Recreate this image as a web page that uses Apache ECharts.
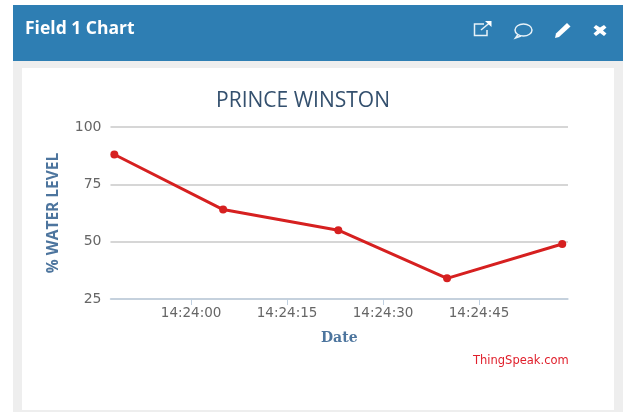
<!DOCTYPE html>
<html>
<head>
<meta charset="utf-8">
<style>
html, body { margin: 0; padding: 0; background: #fff; }
#chart { width: 623px; height: 412px; }
</style>
<script src="https://cdn.jsdelivr.net/npm/echarts@6/dist/echarts.min.js"></script>
</head>
<body>
<div id="chart"></div>
<script>
var times = ['2021-01-01 14:23:48', '2021-01-01 14:24:05', '2021-01-01 14:24:23', '2021-01-01 14:24:40', '2021-01-01 14:24:58']
var waterLevel = [88, 64, 55, 34, 49]
var xTicks = ['2021-01-01 14:24:00', '2021-01-01 14:24:15', '2021-01-01 14:24:30', '2021-01-01 14:24:45']
var yTicks = [25, 50, 75, 100]

var chart = echarts.init(document.getElementById('chart'))

var toMs = function (t) {
    return new Date(t).getTime()
}

// header icons, no icon font in here so they are plain shapes
var line = function (points) {
    return {type: 'polyline', z: 12, shape: {points: points}, style: {fill: 'none', stroke: '#e8f2f8', lineWidth: 1.5}}
}
var solid = function (points) {
    return {type: 'polygon', z: 12, shape: {points: points}, style: {fill: '#fff'}}
}

chart.setOption({
    animation: false,
    title: {
        text: 'PRINCE WINSTON',
        left: 298,
        top: 86,
        textAlign: 'center',
        textStyle: {fontFamily: 'Open Sans', fontSize: 21, fontWeight: 'normal', color: '#34506e'}
    },
    grid: {left: 110.5, right: 55, top: 127, bottom: 113},
    // value axis on ms, the time axis will not give 15s ticks
    xAxis: {
        type: 'value',
        min: toMs('2021-01-01 14:23:47') + 400,
        max: toMs('2021-01-01 14:24:58') + 900,
        name: 'Date',
        nameLocation: 'middle',
        nameGap: 32,
        nameTextStyle: {fontFamily: 'DejaVu Serif', fontSize: 14, fontWeight: 'bold', color: '#4d759e'},
        axisLine: {lineStyle: {color: '#c0d0e0', width: 1.5}},
        axisTick: {show: true, length: 6, customValues: xTicks.map(toMs), lineStyle: {color: '#c0d0e0'}},
        axisLabel: {
            customValues: xTicks.map(toMs),
            formatter: function (value) {
                return echarts.time.format(value, '{HH}:{mm}:{ss}')
            },
            margin: 7,
            fontFamily: 'DejaVu Sans',
            fontSize: 13.5,
            color: '#666'
        },
        splitLine: {show: false}
    },
    yAxis: {
        type: 'value',
        min: yTicks[0],
        max: yTicks[yTicks.length - 1],
        interval: 25,
        name: '% WATER LEVEL',
        nameLocation: 'middle',
        nameGap: 49,
        nameTextStyle: {fontFamily: 'Open Sans', fontSize: 15.5, fontWeight: 'bold', color: '#4d759e'},
        axisLine: {show: false},
        axisTick: {show: false},
        axisLabel: {margin: 9, padding: [4, 0, 0, 0], fontFamily: 'DejaVu Sans', fontSize: 14, color: '#666'},
        splitLine: {lineStyle: {color: '#c8c8c8', width: 1.5}}
    },
    series: [{
        name: 'Field 1',
        type: 'line',
        data: times.map(function (t, i) {
            return [toMs(t), waterLevel[i]]
        }),
        symbol: 'circle',
        symbolSize: 8,
        itemStyle: {color: '#d62020'},
        lineStyle: {color: '#d62020', width: 3}
    }],
    graphic: [
        {type: 'rect', z: -10, shape: {x: 13, y: 5, width: 610, height: 407}, style: {fill: '#eeeeee'}},
        {type: 'rect', z: -9, shape: {x: 13, y: 5, width: 610, height: 56}, style: {fill: '#2e7eb3'}},
        {type: 'rect', z: -9, shape: {x: 22, y: 68, width: 592, height: 342}, style: {fill: '#ffffff'}},
        {type: 'text', z: 12, style: {x: 25, y: 20, text: 'Field 1 Chart', fill: '#fff', fontFamily: 'Open Sans', fontSize: 17.5, fontWeight: 'bold'}},
        line([[484, 24], [474.5, 24], [474.5, 35.5], [487, 35.5], [487, 30]]),
        line([[481, 30], [490, 22.5]]),
        solid([[485, 21], [491.5, 21], [491.5, 27]]),
        {type: 'ellipse', z: 12, shape: {cx: 523.5, cy: 30, rx: 8.5, ry: 6}, style: {fill: 'none', stroke: '#e8f2f8', lineWidth: 1.5}},
        line([[518, 34.5], [515.5, 38], [521, 36]]),
        solid([[567, 23], [570.5, 26.5], [559, 37], [555, 38], [556, 33.5]]),
        solid([[596, 25], [600, 27.5], [604, 25], [606.5, 27.5], [603, 30.5], [606.5, 33.5], [604, 36], [600, 33], [596, 36], [593.5, 33.5], [597, 30.5], [593.5, 27.5]]),
        {type: 'text', z: 12, style: {x: 473, y: 355, text: 'ThingSpeak.com', fill: '#e0202c', fontFamily: 'DejaVu Sans', fontSize: 11.5}}
    ]
})
</script>
</body>
</html>
